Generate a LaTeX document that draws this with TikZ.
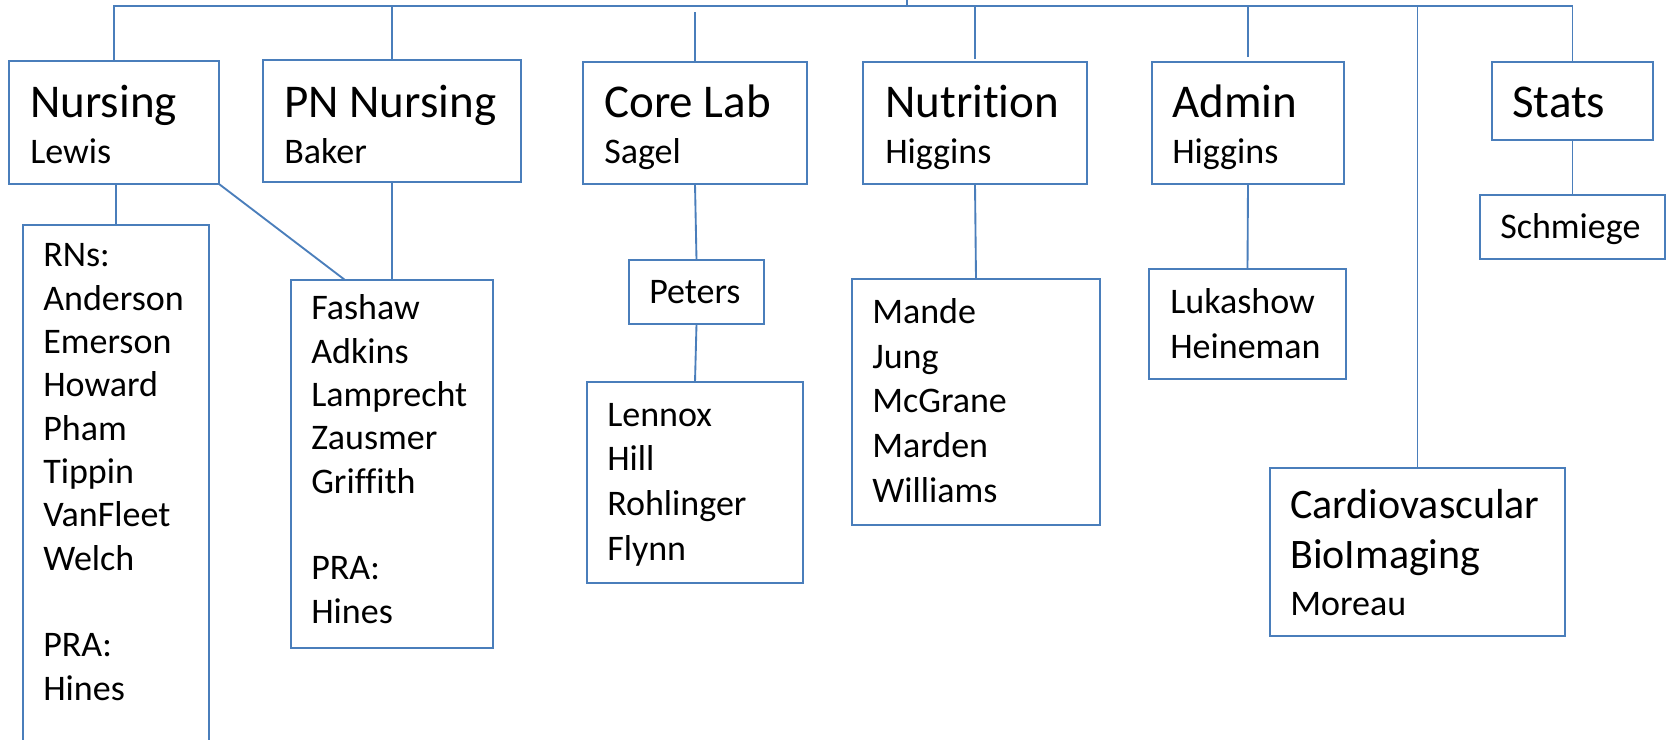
\documentclass[tikz,border=0pt]{standalone}
\usepackage{fontspec}
\setmainfont{Carlito}[Ligatures=NoCommon]
\usetikzlibrary{fit,calc}
\definecolor{lineblue}{RGB}{74,126,187}
\begin{document}
\begin{tikzpicture}[x=0.75pt,y=-0.75pt,
  box/.style={draw=lineblue,line width=1.4pt,inner sep=0pt,outer sep=0pt,rectangle},
  conn/.style={draw=lineblue,line width=1.4pt},
  ttl/.style={inner sep=0pt,anchor=base west,font=\fontsize{35.25}{42}\selectfont},
  lst/.style={inner sep=0pt,anchor=base west,align=left,font=\fontsize{27}{33.4}\selectfont},
  tightlst/.style={lst,font=\fontsize{27}{32.5}\selectfont},
  cvt/.style={inner sep=0pt,anchor=base west,align=left,font=\fontsize{31.5}{37.5}\selectfont}]
\useasboundingbox (0,0) rectangle (1667,739);
% boxes
\node[box,fit={(9,61) (219,184)}] (nursing) {};
\node[box,fit={(263,60) (521,182)}] (pn) {};
\node[box,fit={(583,62) (807,184)}] (core) {};
\node[box,fit={(863,62) (1087,184)}] (nutr) {};
\node[box,fit={(1152,62) (1344,184)}] (admin) {};
\node[box,fit={(1492,62) (1653,140)}] (stats) {};
\node[box,fit={(1480,195) (1665,259)}] (schm) {};
\node[box,fit={(23,225) (209,760)}] (rn) {};
\node[box,fit={(291,280) (493,648)}] (pnlist) {};
\node[box,fit={(629,260) (764,324)}] (peters) {};
\node[box,fit={(587,382) (803,583)}] (corelist) {};
\node[box,fit={(852,279) (1100,525)}] (nutrlist) {};
\node[box,fit={(1149,269) (1346,379)}] (adminlist) {};
\node[box,fit={(1270,468) (1565,636)}] (cardio) {};
% texts (multi-line nodes are anchored at the baseline of their last line)
\node[ttl] (nursingT) at (30,117) {Nursing};
\node[lst] (nursingS) at (30,163) {Lewis};
\node[ttl] (pnT) at (284,117) {PN Nursing};
\node[lst] (pnS) at (284,163) {Baker};
\node[ttl] (coreT) at (604,117) {Core Lab};
\node[lst] (coreS) at (604,163) {Sagel};
\node[ttl] (nutrT) at (885,117) {Nutrition};
\node[lst] (nutrS) at (885,163) {Higgins};
\node[ttl] (adminT) at (1172,117) {Admin};
\node[lst] (adminS) at (1172,163) {Higgins};
\node[ttl] (statsT) at (1512,117) {Stats};
\node[lst] (schmT) at (1500,238) {Schmiege};
\node[lst] (petersT) at (649,303) {Peters};
\node[tightlst] (rnT) at (43,700) {RNs:\\Anderson\\Emerson\\Howard\\Pham\\Tippin\\VanFleet\\Welch\\[32.5pt]PRA:\\Hines};
\node[tightlst] (pnlistT) at (311,623) {Fashaw\\Adkins\\Lamprecht\\Zausmer\\Griffith\\[32.5pt]PRA:\\Hines};
\node[lst] (corelistT) at (607,560) {Lennox\\Hill\\Rohlinger\\Flynn};
\node[lst] (nutrlistT) at (872,502) {Mande\\Jung\\McGrane\\Marden\\Williams};
\node[lst] (adminlistT) at (1170,358) {Lukashow\\Heineman};
\node[cvt] (cardioT) at (1290,568) {Cardiovascular\\BioImaging};
\node[lst] (cardioS) at (1290,615) {Moreau};
% connectors
\coordinate (bus) at (907,6);
\coordinate (root) at (907,0);
\draw[conn] (root) -- (bus);
\draw[conn] (nursing.north) -- (nursing.north |- bus) -| (stats.north);
\draw[conn] (pn.north) -- (pn.north |- bus);
\draw[conn] (core.north) -- ++(0,-50);
\draw[conn] ($(nutr.north)+(0,-3)$) -- (nutr.north |- bus);
\draw[conn] ($(admin.north)+(0,-5)$) -- (admin.north |- bus);
\draw[conn] (cardio.north) -- (cardio.north |- bus);
\draw[conn] (rn.north |- nursing.south) -- (rn.north);
\draw[conn] (nursing.south east) -- ($(pnlist.north west)+(54,0)$);
\draw[conn] (pn.south) -- (pnlist.north);
\draw[conn] (core.south) -- (peters.north);
\draw[conn] (peters.south) -- (corelist.north);
\draw[conn] (nutr.south) -- (nutrlist.north);
\draw[conn] (admin.south) -- (adminlist.north);
\draw[conn] (stats.south) -- (schm.north);
\end{tikzpicture}
\end{document}
